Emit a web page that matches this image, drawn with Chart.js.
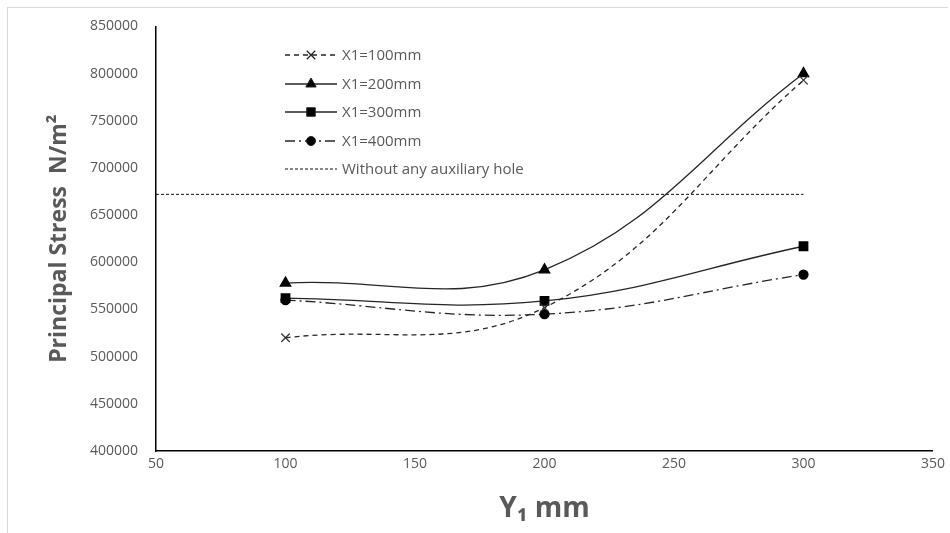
<!DOCTYPE html>
<html lang="en">
<head>
    <meta charset="UTF-8">
    <title>Principal Stress vs Y1</title>
    <style>
        body {
            margin: 0;
            background: #ffffff;
        }
        .frame {
            position: relative;
            width: 950px;
            height: 533px;
        }
        .frame::before {
            content: "";
            position: absolute;
            left: 7px;
            top: 7px;
            right: 2px;
            bottom: 0;
            border-left: 1px solid #d9d9d9;
            border-top: 1px solid #d9d9d9;
            pointer-events: none;
        }
        canvas {
            display: block;
        }
    </style>
</head>
<body>
    <div class="frame">
        <canvas id="stressChart" width="950" height="533"></canvas>
    </div>
    <script src="https://cdn.jsdelivr.net/npm/chart.js"></script>
    <script>
        // data
        var yPositions = [100, 200, 300];
        var x1_100 = [520000, 552000, 793000];
        var x1_200 = [578000, 592000, 800000];
        var x1_300 = [562000, 559000, 617000];
        var x1_400 = [560000, 545000, 587000];
        var noHoleX = [50, 300];
        var noHoleY = [672000, 672000];
        var seriesNames = ['X1=100mm', 'X1=200mm', 'X1=300mm', 'X1=400mm', 'Without any auxiliary hole'];

        function toPoints(xs, ys) {
            return xs.map(function (x, i) { return { x: x, y: ys[i] }; });
        }

        var lineColor = '#262626';
        var textGray = '#595959';

        // legend drawn inside the plot, like the original
        var insideLegend = {
            id: 'insideLegend',
            afterDraw: function (chart) {
                var ctx = chart.ctx;
                var x0 = 285, x1 = 337, textX = 342;
                var rowY = [55, 84, 112, 141, 169];
                ctx.save();
                chart.data.datasets.forEach(function (ds, i) {
                    var y = rowY[i];
                    ctx.strokeStyle = ds.borderColor;
                    ctx.lineWidth = ds.borderWidth;
                    ctx.setLineDash(ds.borderDash || []);
                    ctx.beginPath();
                    ctx.moveTo(x0, y);
                    ctx.lineTo(x1, y);
                    ctx.stroke();
                    ctx.setLineDash([]);
                    if (ds.pointRadius > 0) {
                        ctx.fillStyle = '#000';
                        ctx.strokeStyle = '#222';
                        ctx.lineWidth = ds.pointBorderWidth || 1;
                        Chart.helpers.drawPoint(ctx, {
                            pointStyle: ds.pointStyle,
                            radius: ds.pointRadius,
                            borderWidth: ds.pointBorderWidth || 1,
                            rotation: 0
                        }, (x0 + x1) / 2, y);
                    }
                    ctx.fillStyle = textGray;
                    ctx.font = '15px "Open Sans", "Liberation Sans", sans-serif';
                    ctx.textBaseline = 'middle';
                    ctx.textAlign = 'left';
                    ctx.fillText(ds.label, textX, y + 1);
                });
                ctx.restore();
            }
        };

        var ctx = document.getElementById('stressChart').getContext('2d');

        var chart = new Chart(ctx, {
            type: 'scatter',
            data: {
                datasets: [{
                    label: seriesNames[0],
                    data: toPoints(yPositions, x1_100),
                    showLine: true,
                    borderColor: lineColor,
                    backgroundColor: lineColor,
                    borderWidth: 1.3,
                    borderDash: [5, 4],
                    pointStyle: 'crossRot',
                    pointRadius: 6,
                    pointBorderWidth: 1.2,
                    pointBorderColor: '#333',
                    tension: 0.4
                }, {
                    label: seriesNames[1],
                    data: toPoints(yPositions, x1_200),
                    showLine: true,
                    borderColor: lineColor,
                    backgroundColor: '#000',
                    borderWidth: 1.3,
                    pointStyle: 'triangle',
                    pointRadius: 6,
                    pointBorderColor: '#000',
                    pointBackgroundColor: '#000',
                    tension: 0.4
                }, {
                    label: seriesNames[2],
                    data: toPoints(yPositions, x1_300),
                    showLine: true,
                    borderColor: lineColor,
                    backgroundColor: '#000',
                    borderWidth: 1.3,
                    pointStyle: 'rect',
                    pointRadius: 6,
                    pointBorderColor: '#000',
                    pointBackgroundColor: '#000',
                    tension: 0.4
                }, {
                    label: seriesNames[3],
                    data: toPoints(yPositions, x1_400),
                    showLine: true,
                    borderColor: lineColor,
                    backgroundColor: '#000',
                    borderWidth: 1.3,
                    borderDash: [10, 4, 2, 4],
                    pointStyle: 'circle',
                    pointRadius: 4.5,
                    pointBorderColor: '#000',
                    pointBackgroundColor: '#000',
                    tension: 0.4
                }, {
                    label: seriesNames[4],
                    data: toPoints(noHoleX, noHoleY),
                    showLine: true,
                    borderColor: '#111',
                    backgroundColor: '#111',
                    borderWidth: 1,
                    borderDash: [3, 2],
                    pointRadius: 0,
                    tension: 0
                }]
            },
            options: {
                responsive: false,
                animation: false,
                layout: {
                    padding: { left: 0, right: 6, top: 18, bottom: 0 }
                },
                plugins: {
                    legend: { display: false },
                    tooltip: { enabled: false }
                },
                scales: {
                    x: {
                        type: 'linear',
                        min: 50,
                        max: 350,
                        border: { display: true, color: '#000', width: 1.5 },
                        grid: { display: false, drawTicks: false },
                        ticks: {
                            stepSize: 50,
                            padding: 5,
                            color: textGray,
                            font: { family: '"Open Sans", "Liberation Sans", sans-serif', size: 14 }
                        },
                        title: {
                            display: true,
                            text: 'Y\u2081 mm',
                            color: textGray,
                            padding: { top: 7, bottom: 7 },
                            font: { family: '"Open Sans", "Liberation Sans", sans-serif', size: 28, weight: 'bold' }
                        },
                        afterFit: function (scale) { scale.height = 82; }
                    },
                    y: {
                        min: 400000,
                        max: 850000,
                        border: { display: true, color: '#000', width: 1.5 },
                        grid: { display: false, drawTicks: false },
                        ticks: {
                            stepSize: 50000,
                            padding: 18,
                            color: textGray,
                            font: { family: '"Open Sans", "Liberation Sans", sans-serif', size: 14 },
                            callback: function (v) { return String(v); }
                        },
                        title: {
                            display: true,
                            text: 'Principal Stress  N/m\u00b2',
                            color: textGray,
                            padding: { top: 46, bottom: 0 },
                            font: { family: '"Open Sans", "Liberation Sans", sans-serif', size: 23, weight: 'bold' }
                        },
                        afterFit: function (scale) { scale.width = 156; }
                    }
                }
            },
            plugins: [insideLegend]
        });
    </script>
</body>
</html>
